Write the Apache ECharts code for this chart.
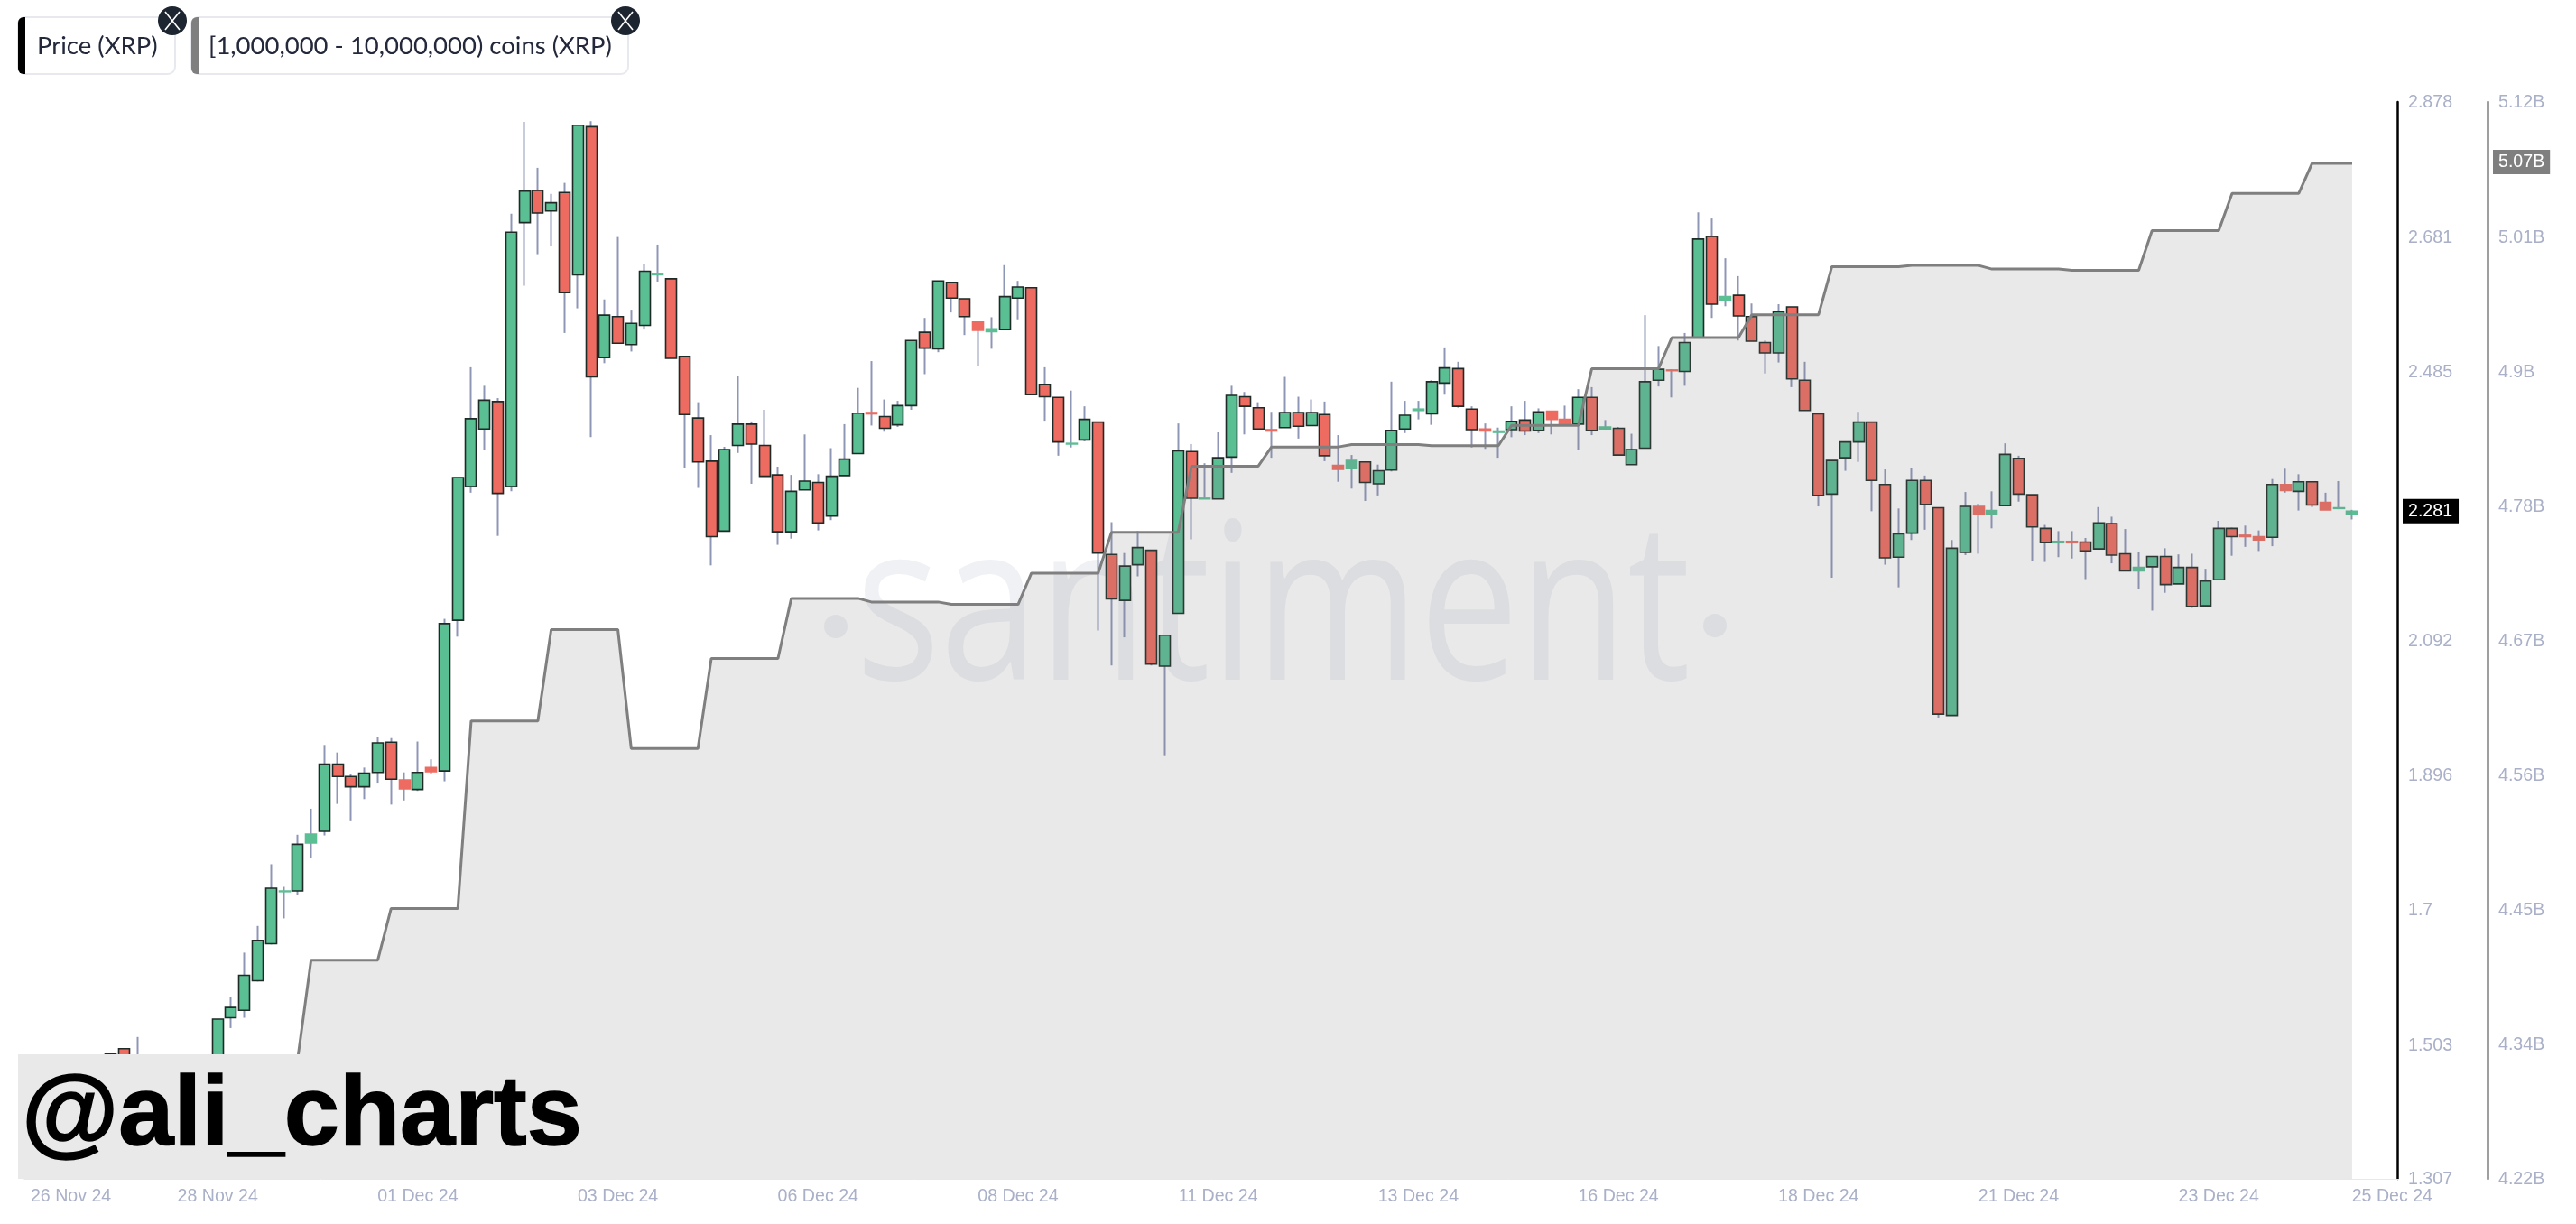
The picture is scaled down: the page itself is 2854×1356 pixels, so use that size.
<!DOCTYPE html>
<html><head><meta charset="utf-8">
<style>html,body{margin:0;padding:0;background:#fff}#c{width:2854px;height:1356px}</style>
<script src="https://cdn.jsdelivr.net/npm/echarts@6/dist/echarts.min.js"></script>
</head><body><div id="c"></div>
<script>
const opens = [1.370,1.380,1.375,1.390,1.400,1.420,1.465,1.497,1.440,1.460,
1.430,1.450,1.440,1.460,1.470,1.542,1.553,1.596,1.650,1.726,
1.727,1.797,1.814,1.912,1.894,1.879,1.900,1.944,1.889,1.875,
1.907,1.902,2.122,2.317,2.401,2.441,2.317,2.702,2.749,2.719,
2.746,2.626,2.842,2.505,2.565,2.524,2.552,2.626,2.620,2.507,
2.417,2.354,2.252,2.377,2.408,2.377,2.334,2.251,2.312,2.323,
2.274,2.333,2.365,2.425,2.419,2.407,2.435,2.542,2.518,2.615,
2.591,2.557,2.543,2.546,2.592,2.607,2.466,2.447,2.379,2.385,
2.411,2.218,2.151,2.203,2.224,2.055,2.132,2.368,2.299,2.299,
2.360,2.448,2.432,2.400,2.403,2.425,2.406,2.422,2.348,2.343,
2.353,2.321,2.341,2.401,2.428,2.423,2.468,2.489,2.430,2.401,
2.396,2.400,2.414,2.399,2.427,2.415,2.408,2.447,2.401,2.402,
2.349,2.373,2.472,2.487,2.485,2.534,2.682,2.589,2.596,2.565,
2.527,2.512,2.579,2.472,2.423,2.306,2.359,2.382,2.411,2.320,
2.214,2.249,2.326,2.286,1.983,2.221,2.288,2.276,2.289,2.358,
2.305,2.256,2.235,2.237,2.236,2.226,2.263,2.219,2.194,2.200,
2.215,2.175,2.199,2.143,2.181,2.256,2.246,2.244,2.243,2.320,
2.310,2.324,2.294,2.285,2.277];
const closes = [1.380,1.375,1.390,1.400,1.420,1.465,1.489,1.460,1.470,1.430,
1.450,1.440,1.460,1.470,1.540,1.557,1.604,1.655,1.731,1.727,
1.795,1.810,1.912,1.894,1.879,1.899,1.943,1.890,1.876,1.900,
1.901,2.117,2.330,2.416,2.443,2.307,2.688,2.748,2.716,2.731,
2.600,2.844,2.477,2.567,2.526,2.555,2.631,2.628,2.504,2.422,
2.353,2.244,2.371,2.408,2.379,2.332,2.251,2.310,2.325,2.264,
2.332,2.357,2.424,2.423,2.402,2.435,2.530,2.519,2.617,2.592,
2.565,2.545,2.547,2.594,2.608,2.451,2.448,2.382,2.380,2.415,
2.220,2.153,2.201,2.228,2.058,2.100,2.369,2.300,2.300,2.359,
2.450,2.434,2.401,2.398,2.425,2.405,2.425,2.362,2.342,2.355,
2.323,2.340,2.399,2.421,2.430,2.470,2.490,2.434,2.400,2.398,
2.398,2.412,2.398,2.426,2.415,2.408,2.447,2.399,2.404,2.363,
2.371,2.470,2.488,2.486,2.527,2.678,2.583,2.594,2.566,2.529,
2.512,2.572,2.474,2.428,2.304,2.355,2.382,2.411,2.326,2.213,
2.248,2.326,2.291,1.985,2.227,2.288,2.276,2.282,2.364,2.306,
2.258,2.235,2.237,2.235,2.223,2.264,2.217,2.194,2.199,2.215,
2.174,2.199,2.142,2.179,2.256,2.244,2.244,2.239,2.320,2.311,
2.324,2.290,2.283,2.286,2.281];
const highs = [1.395,1.390,1.400,1.410,1.430,1.470,1.490,1.497,1.514,1.475,
1.460,1.460,1.470,1.480,1.540,1.573,1.637,1.676,1.766,1.733,
1.809,1.847,1.940,1.929,1.897,1.907,1.951,1.950,1.900,1.945,
1.919,2.124,2.330,2.491,2.464,2.446,2.715,2.849,2.782,2.744,
2.760,2.845,2.850,2.590,2.681,2.575,2.641,2.670,2.620,2.507,
2.440,2.392,2.375,2.479,2.412,2.429,2.346,2.334,2.393,2.335,
2.373,2.408,2.461,2.500,2.444,2.442,2.530,2.563,2.617,2.615,
2.591,2.557,2.564,2.640,2.617,2.607,2.491,2.447,2.457,2.434,
2.411,2.265,2.220,2.252,2.224,2.100,2.409,2.379,2.351,2.396,
2.464,2.455,2.440,2.426,2.477,2.448,2.444,2.441,2.392,2.363,
2.353,2.349,2.470,2.442,2.442,2.472,2.520,2.499,2.434,2.409,
2.403,2.434,2.442,2.431,2.427,2.435,2.459,2.462,2.414,2.404,
2.394,2.567,2.522,2.488,2.541,2.717,2.708,2.650,2.624,2.584,
2.530,2.583,2.579,2.499,2.423,2.355,2.382,2.426,2.411,2.342,
2.285,2.344,2.333,2.286,2.239,2.309,2.292,2.310,2.380,2.362,
2.305,2.261,2.252,2.252,2.242,2.287,2.273,2.255,2.222,2.215,
2.227,2.218,2.219,2.197,2.267,2.257,2.260,2.253,2.328,2.343,
2.335,2.324,2.308,2.325,2.283];
const lows = [1.360,1.360,1.370,1.380,1.390,1.410,1.450,1.450,1.430,1.420,
1.420,1.430,1.430,1.450,1.460,1.527,1.542,1.595,1.649,1.687,
1.721,1.775,1.808,1.854,1.830,1.861,1.885,1.853,1.859,1.873,
1.898,1.887,2.098,2.308,2.371,2.245,2.310,2.610,2.656,2.668,
2.541,2.577,2.389,2.497,2.526,2.514,2.546,2.616,2.504,2.344,
2.315,2.202,2.252,2.366,2.321,2.332,2.232,2.241,2.312,2.253,
2.268,2.333,2.365,2.406,2.397,2.404,2.429,2.481,2.513,2.571,
2.538,2.493,2.518,2.546,2.561,2.451,2.413,2.362,2.374,2.383,
2.107,2.056,2.097,2.186,2.056,1.925,2.132,2.240,2.299,2.299,
2.337,2.393,2.401,2.359,2.403,2.387,2.406,2.354,2.324,2.314,
2.296,2.304,2.339,2.395,2.415,2.407,2.451,2.432,2.374,2.372,
2.359,2.389,2.392,2.395,2.393,2.408,2.370,2.392,2.400,2.363,
2.349,2.373,2.463,2.447,2.464,2.534,2.563,2.580,2.530,2.529,
2.482,2.498,2.462,2.428,2.288,2.184,2.340,2.353,2.281,2.203,
2.170,2.239,2.254,1.980,1.983,2.217,2.219,2.256,2.289,2.295,
2.208,2.207,2.214,2.212,2.182,2.226,2.205,2.194,2.167,2.136,
2.162,2.175,2.140,2.143,2.181,2.216,2.229,2.223,2.230,2.308,
2.282,2.287,2.283,2.284,2.269];
const holders = [4.260,4.260,4.260,4.280,4.280,4.280,4.280,4.280,4.280,4.300,
4.300,4.300,4.300,4.300,4.300,4.324,4.324,4.324,4.324,4.324,
4.324,4.406,4.406,4.406,4.406,4.406,4.406,4.449,4.449,4.449,
4.449,4.449,4.449,4.605,4.605,4.605,4.605,4.605,4.605,4.681,
4.681,4.681,4.681,4.681,4.681,4.582,4.582,4.582,4.582,4.582,
4.582,4.657,4.657,4.657,4.657,4.657,4.657,4.707,4.707,4.707,
4.707,4.707,4.707,4.704,4.704,4.704,4.704,4.704,4.704,4.702,
4.702,4.702,4.702,4.702,4.702,4.728,4.728,4.728,4.728,4.728,
4.728,4.762,4.762,4.762,4.762,4.762,4.762,4.817,4.817,4.817,
4.817,4.817,4.817,4.833,4.833,4.833,4.833,4.833,4.833,4.835,
4.835,4.835,4.835,4.835,4.835,4.834,4.834,4.834,4.834,4.834,
4.834,4.851,4.851,4.851,4.851,4.851,4.851,4.898,4.898,4.898,
4.898,4.898,4.898,4.924,4.924,4.924,4.924,4.924,4.924,4.943,
4.943,4.943,4.943,4.943,4.943,4.983,4.983,4.983,4.983,4.983,
4.983,4.984,4.984,4.984,4.984,4.984,4.984,4.981,4.981,4.981,
4.981,4.981,4.981,4.980,4.980,4.980,4.980,4.980,4.980,5.013,
5.013,5.013,5.013,5.013,5.013,5.044,5.044,5.044,5.044,5.044,
5.044,5.069,5.069,5.069,5.069];
const tickIndex = [3,14,29,44,59,74,89,104,119,134,149,164,177];
const tickLabels = ['26 Nov 24','28 Nov 24','01 Dec 24','03 Dec 24','06 Dec 24','08 Dec 24','11 Dec 24','13 Dec 24','16 Dec 24','18 Dec 24','21 Dec 24','23 Dec 24','25 Dec 24'];
const priceTicks = [1.307,1.503,1.7,1.896,2.092,2.281,2.485,2.681,2.878];
const holderTicks = [4.224,4.336,4.448,4.56,4.672,4.784,4.896,5.008,5.07,5.12];
const lastPrice = 2.281, lastHolders = 5.07;
const borderless = [19,21,28,30,47,63,71,72,78,88,93,98,99,104,109,110,114,115,118,123,127,146,147,152,153,158,166,167,169,172,173,174];

const UP='#5bbf94', DOWN='#ee6b61', WICK='#8e96b6', EDGE='#1d2a26', LABEL='#a9b0c8', FONT='"Liberation Sans"';
const categories=[]; 
for(let i=0;i<178;i++){
  const t=new Date(Date.UTC(2024,10,26,12)+i*4*3600*1000);
  const k=tickIndex.indexOf(i);
  categories.push(k>=0?tickLabels[k]:t.toISOString().slice(0,13));
}
const wickData=opens.map((o,i)=>[o,closes[i],lows[i],highs[i]]);
const bodyData=opens.map((o,i)=>{
  const c=closes[i],v=[o,c,Math.min(o,c),Math.max(o,c)];
  if(borderless.includes(i)){const col=c>=o?UP:DOWN;return {value:v,itemStyle:{borderColor:col,borderColor0:col,borderColorDoji:col}};}
  return v;
});
const numRich={n:{color:LABEL,fontFamily:FONT,fontSize:19.6,padding:[2,0,0,6]},
  last:{color:'#fff',fontFamily:FONT,fontSize:19.6,backgroundColor:'#000',padding:[4,7,3,6]},
  lastH:{color:'#fff',fontFamily:FONT,fontSize:19.6,backgroundColor:'#7f7f7f',padding:[4,6,3,6]}};
function chip(x,w,barCol,text,tx){
  const y=19,h=63;
  return [
   {type:'rect',z:60,shape:{x:x,y:y,width:w,height:h,r:8},style:{fill:'#fff',stroke:'#e8e9ee',lineWidth:2}},
   {type:'rect',z:61,shape:{x:x,y:y,width:8,height:h,r:[6,0,0,6]},style:{fill:barCol}},
   {type:'text',z:62,x:tx,y:51,style:{text:text,fill:'#23283a',font:'27.5px Lato',verticalAlign:'middle',align:'left'}},
  ];
}
function closeBtn(cx,cy){
  return [
   {type:'circle',z:63,shape:{cx:cx,cy:cy,r:16},style:{fill:'#1c2530'}},
   {type:'line',z:64,shape:{x1:cx-8,y1:cy-10,x2:cx+8,y2:cy+10},style:{stroke:'#fff',lineWidth:1.6}},
   {type:'line',z:64,shape:{x1:cx+8,y1:cy-10,x2:cx-8,y2:cy+10},style:{stroke:'#fff',lineWidth:1.6}},
  ];
}
const chart=echarts.init(document.getElementById('c'),null,{renderer:'canvas',width:2854,height:1356});
chart.setOption({
 animation:false,
 backgroundColor:'#fff',
 grid:{left:26.86,top:113,width:2630.84,height:1193,containLabel:false},
 xAxis:{type:'category',data:categories,boundaryGap:true,
  axisLine:{show:true,lineStyle:{color:'#e7e8ee',width:1}},axisTick:{show:false},splitLine:{show:false},
  axisLabel:{interval:(i)=>tickIndex.includes(i),color:LABEL,fontFamily:FONT,fontSize:19.6,margin:10,hideOverlap:false}},
 yAxis:[
  {type:'value',position:'right',min:1.307,max:2.878,offset:-1.7,scale:true,splitLine:{show:false},axisTick:{show:false},
   axisLine:{show:true,onZero:false,lineStyle:{color:'#000',width:2.5}},
   axisLabel:{margin:6,customValues:priceTicks,hideOverlap:false,rich:numRich,
     formatter:v=>v===lastPrice?`{last|${v}}`:`{n|${v}}`}},
  {type:'value',position:'right',min:4.224,max:5.12,offset:98.3,scale:true,splitLine:{show:false},axisTick:{show:false},
   axisLine:{show:true,onZero:false,lineStyle:{color:'#7f7f7f',width:2.5}},
   axisLabel:{margin:6,customValues:holderTicks,hideOverlap:false,rich:numRich,
     formatter:v=>v===lastHolders?`{lastH|${v}B}`:`{n|${parseFloat(v.toFixed(2))}B}`}}
 ],
 series:[
  {name:'wick',type:'candlestick',z:2,yAxisIndex:0,barWidth:1,data:wickData,silent:true,
   itemStyle:{color:WICK,color0:WICK,borderColor:WICK,borderColor0:WICK,borderColorDoji:WICK,borderWidth:2}},
  {name:'Price (XRP)',type:'candlestick',z:3,yAxisIndex:0,barWidth:12.5,data:bodyData,silent:true,
   itemStyle:{color:UP,color0:DOWN,borderColor:EDGE,borderColor0:EDGE,borderColorDoji:EDGE,borderWidth:1.6}},
  {name:'[1,000,000 - 10,000,000) coins (XRP)',type:'line',z:4,yAxisIndex:1,data:holders,showSymbol:false,smooth:false,silent:true,
   lineStyle:{color:'#7f7f7f',width:3},areaStyle:{color:'#7f7f7f',opacity:0.17,origin:'start'}}
 ],
 graphic:{elements:[
  {type:'text',z:0,silent:true,x:948,y:684,scaleX:0.808,style:{text:'santiment',fill:'#f0f1f5',font:'400 243px "Open Sans"',verticalAlign:'middle',align:'left'}},
  {type:'circle',z:0,silent:true,shape:{cx:926,cy:694,r:13},style:{fill:'#f0f1f5'}},
  {type:'circle',z:0,silent:true,shape:{cx:1900,cy:693,r:13},style:{fill:'#f0f1f5'}},
  {type:'rect',z:50,silent:true,shape:{x:20,y:1168,width:640,height:138},style:{fill:'#e9e9e9'}},
  {type:'text',z:51,silent:true,x:24,y:1238,style:{text:'@ali_charts',fill:'#000',stroke:'#000',lineWidth:1.5,font:'bold 110px "Liberation Sans"',verticalAlign:'middle',align:'left'}},
  ...chip(20,174,'#000','Price (XRP)',41),
  ...chip(212,484,'#7f7f7f','[1,000,000 - 10,000,000) coins (XRP)',231),
  ...closeBtn(191,23),
  ...closeBtn(693,23)
 ]}
});
</script></body></html>
